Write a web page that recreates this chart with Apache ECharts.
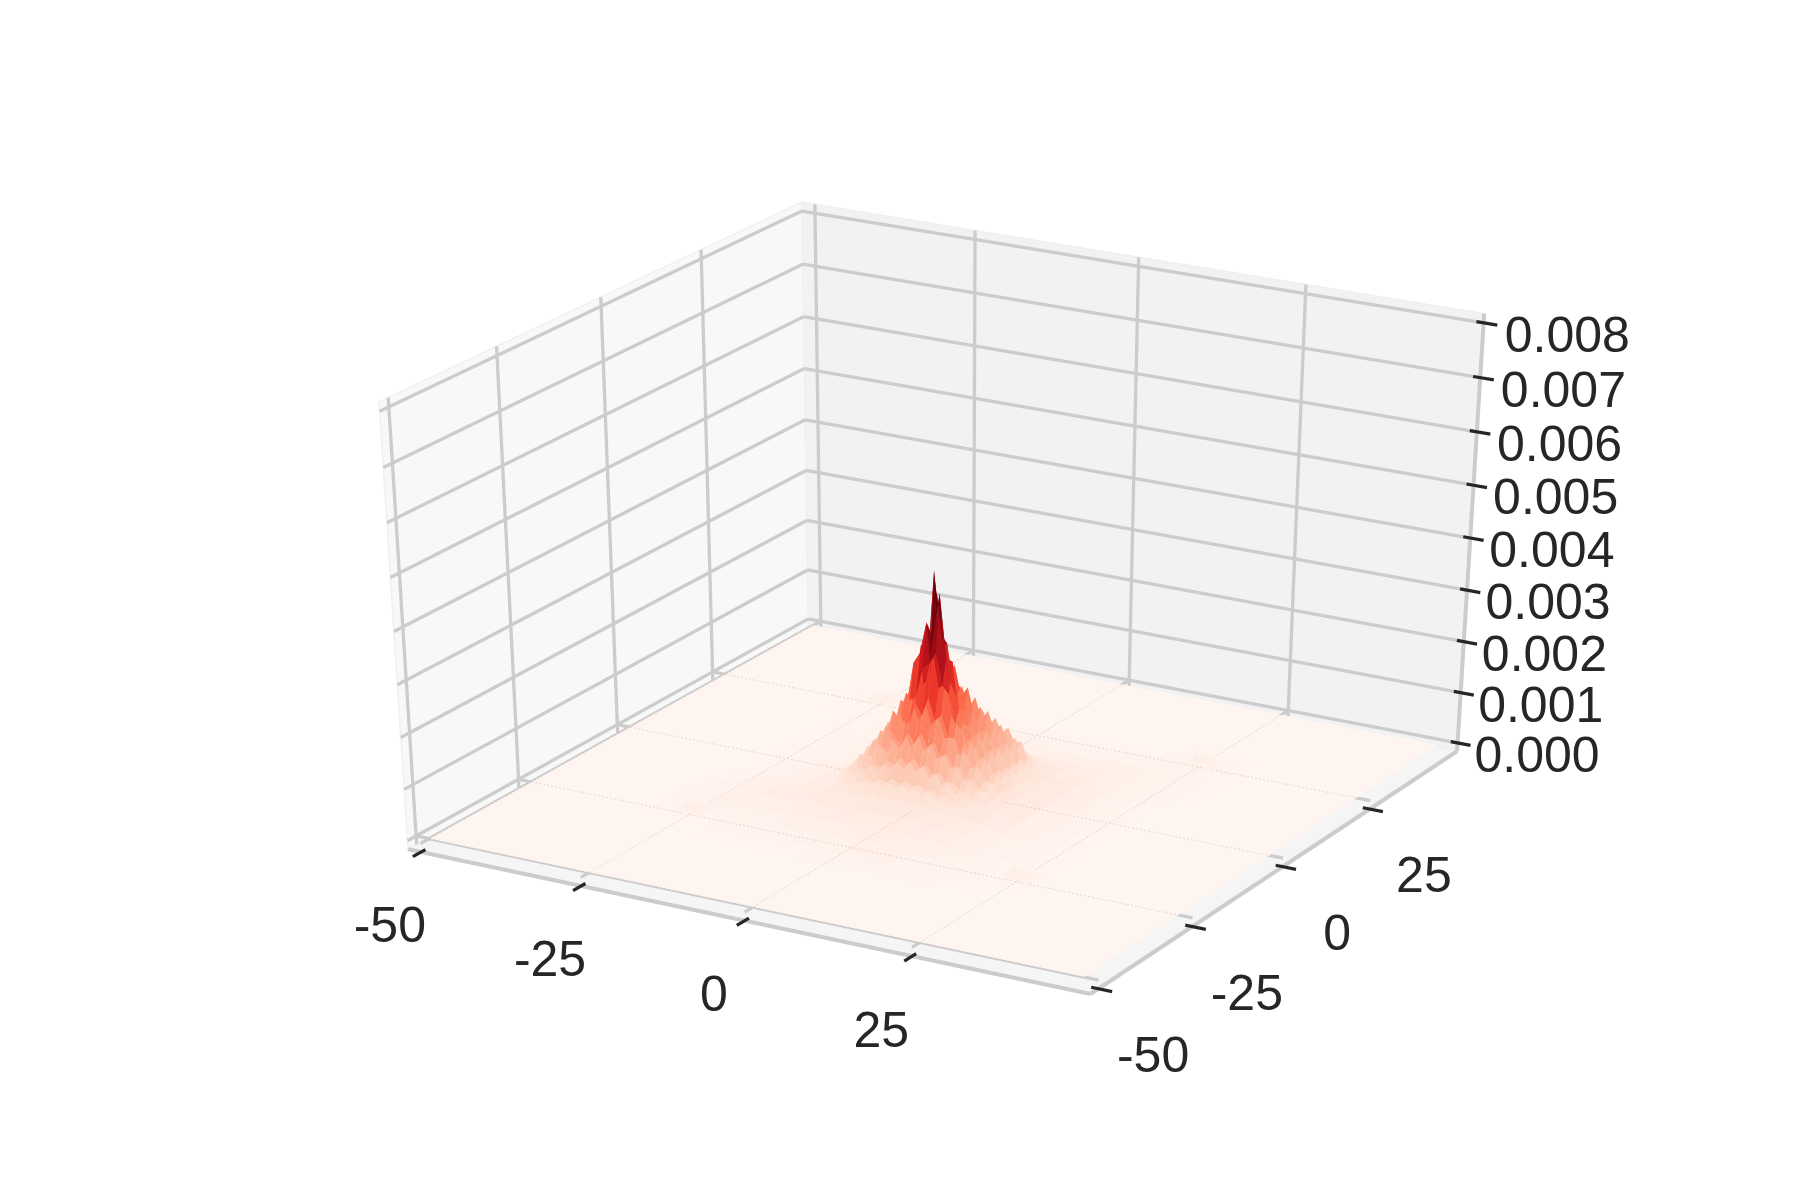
<!DOCTYPE html>
<html><head><meta charset="utf-8">
<style>html,body{margin:0;padding:0;background:#fff}#c{width:1800px;height:1200px}</style>
<script src="https://cdn.jsdelivr.net/npm/echarts@6/dist/echarts.min.js"></script>
</head><body><div id="c"></div>
<script>
// ---- axes ----
const xTicks = [-50, -25, 0, 25];
const yTicks = [-50, -25, 0, 25];
const zTicks = [0, 0.001, 0.002, 0.003, 0.004, 0.005, 0.006, 0.007, 0.008];
const xLabels = ['-50', '-25', '0', '25'];
const yLabels = ['-50', '-25', '0', '25'];
const zLabels = ['0.000', '0.001', '0.002', '0.003', '0.004', '0.005', '0.006', '0.007', '0.008'];
const xRange = [-50, 49];
const yRange = [-50, 49];
const zRange = [0, 0.008];
const zUnit = 0.000011;          // surface values below are in this unit
const colorMax = 0.0033;
const reds = ['#fff5f0', '#fee0d2', '#fcbba1', '#fc9272', '#fb6a4a', '#ef3b2c', '#cb181d', '#a50f15', '#67000d'];

// ---- surface values ----
// central peak: x = -15..13, y = 14..-14, step 1
const coreRows = [
[5,6,7,8,9,10,11,12,13,14,15,15,16,16,16,15,15,15,14,13,12,11,10,9,8,7,6,5,5],
[6,7,9,10,12,13,14,15,15,16,17,17,18,18,18,18,17,17,16,15,15,14,12,11,10,9,7,6,5],
[8,9,14,15,24,22,30,26,36,30,40,33,42,34,42,33,40,30,36,27,32,24,28,20,22,14,14,9,8],
[7,9,14,20,33,31,41,38,48,43,52,45,54,45,53,44,50,40,44,36,39,29,28,21,21,14,11,9,6],
[10,13,22,32,58,52,72,63,85,70,90,73,92,73,90,70,85,64,75,56,66,43,42,29,30,18,14,8,7],
[8,12,19,29,50,52,72,65,81,71,86,74,89,74,86,71,80,65,72,57,63,46,46,31,26,16,12,8,6],
[11,15,26,37,66,70,108,90,118,97,125,102,130,102,125,96,115,88,105,79,92,66,72,43,36,20,15,9,8],
[9,13,22,31,50,58,85,79,101,90,110,97,118,99,114,92,104,83,92,73,79,60,63,40,31,19,13,9,7],
[12,17,30,36,60,66,105,96,135,114,150,126,165,130,160,122,145,108,125,92,105,76,85,51,42,24,18,11,10],
[10,15,25,33,53,57,82,82,110,104,134,125,160,130,146,116,126,99,106,82,86,65,68,44,34,21,15,10,8],
[12,18,32,42,72,69,100,96,140,130,185,165,235,175,205,150,170,124,140,100,110,78,85,52,44,25,19,12,10],
[10,15,26,35,57,59,82,84,116,122,170,180,240,195,180,150,140,108,114,87,90,67,68,44,36,22,16,10,8],
[13,19,34,42,70,70,105,102,150,160,240,205,372,265,250,172,180,130,145,104,115,80,85,52,46,27,21,13,11],
[11,16,28,35,55,58,83,85,118,128,180,175,215,340,250,190,165,120,118,89,92,69,69,46,38,24,17,11,9],
[14,20,36,42,68,68,102,99,145,144,215,235,290,265,345,235,230,150,150,106,115,81,88,55,50,29,22,14,12],
[11,16,28,34,52,56,79,81,112,113,154,165,215,225,245,190,178,128,120,89,90,67,68,47,43,27,20,13,10],
[13,19,34,38,62,63,95,92,135,122,170,160,230,196,260,190,215,146,150,104,110,77,82,56,58,34,28,16,13],
[10,15,26,31,47,51,72,73,100,96,126,122,160,142,174,137,148,111,112,84,84,62,63,45,44,28,22,13,10],
[12,17,30,34,56,56,85,80,115,104,145,126,170,138,175,132,155,114,130,92,100,70,75,51,52,31,26,15,12],
[9,13,22,27,42,44,62,61,82,77,100,92,116,100,120,97,108,85,92,70,72,54,54,39,38,24,19,12,9],
[11,15,26,30,48,47,70,64,90,78,105,90,120,98,125,96,115,86,100,72,80,56,60,41,42,26,22,13,11],
[8,10,18,22,34,35,48,46,61,56,70,64,80,69,83,68,77,61,67,52,54,41,41,30,29,19,15,10,8],
[9,12,20,22,36,34,50,45,62,53,70,60,80,65,82,64,78,58,68,50,56,39,42,29,30,18,16,10,9],
[6,8,14,16,24,24,33,31,40,36,45,41,50,43,52,43,50,39,43,34,36,27,27,20,20,13,11,7,6],
[7,8,14,15,24,22,32,28,38,32,42,35,46,38,48,38,46,34,40,30,34,24,26,18,20,13,12,8,7],
[5,6,11,10,15,14,19,17,23,20,26,22,28,23,29,23,27,21,24,18,21,15,16,12,12,8,8,5,5],
[5,6,9,9,13,12,16,14,20,17,22,18,24,19,24,18,22,17,20,15,18,13,14,10,11,8,8,5,5],
[4,4,5,6,7,8,9,9,10,10,11,11,12,12,13,12,12,11,11,10,9,8,8,7,6,5,4,3,3],
[3,3,5,4,7,5,8,6,9,7,10,7,11,8,11,8,11,7,10,6,9,6,8,5,6,4,5,3,3]
];
const coreMinShown = 20;        // pale core cells melt into the halo beneath
// pale halo: x = -32..32, y = 32..-32, step 4
const haloRows = [
[0,1,1,0,0,0,0,0,0,0,0,0,0,0,1,1,0],
[1,3,2,1,1,1,1,1,2,1,1,1,1,1,3,3,1],
[1,2,3,2,1,2,2,3,3,3,2,2,1,3,5,3,1],
[0,1,2,3,3,4,5,6,6,6,5,4,5,7,5,2,1],
[0,1,1,3,5,7,9,11,12,12,10,9,10,7,4,2,0],
[0,1,2,3,6,11,16,20,22,22,20,17,12,8,4,2,0],
[0,1,2,4,7,14,22,27,30,30,28,22,14,9,4,1,0],
[0,1,2,4,8,16,26,30,32,32,30,25,15,9,4,1,0],
[0,1,2,5,9,17,27,32,34,34,31,25,15,8,3,1,0],
[0,1,3,6,11,18,27,32,32,32,30,24,14,7,3,1,0],
[0,2,4,8,13,20,26,30,30,30,27,20,12,6,3,1,0],
[1,2,6,10,14,18,22,25,25,25,22,15,9,5,2,1,0],
[1,4,7,11,12,13,15,18,19,19,16,11,7,4,2,1,0],
[1,3,6,7,8,9,10,12,14,14,12,8,5,3,2,1,0],
[1,3,3,4,4,5,6,7,9,10,9,6,4,2,2,1,0],
[1,1,1,2,2,2,3,4,5,6,6,5,3,2,1,1,0],
[0,0,0,0,1,1,1,2,3,3,3,2,2,1,1,0,0]
];
// four small bumps, step 1
const bumpNW = [[3,11,5,12,3],[4,8,6,9,3],[5,20,10,22,4],[3,9,7,8,3],[2,10,5,10,2]];
const bumpNE = [[3,12,6,10,3],[3,9,7,8,3],[4,23,10,20,4],[3,8,6,9,2],[2,10,5,9,2]];
const bumpSW = [[2,9,5,11,2],[3,8,6,8,3],[4,18,8,20,3],[3,8,6,8,3],[2,10,4,9,2]];
const bumpSE = [[2,11,5,10,2],[3,9,6,8,2],[5,22,9,18,4],[3,9,7,9,3],[2,9,5,11,2]];

// ---- mplot3d default camera: elev 30, azim -60, dist 10 ----
const camera = {n:[0.4330127,-0.75,0.5], u:[0.8660254,0.5,0], v:[-0.25,0.4330127,0.8660254], dist:10,
                sx:[941,7562], sy:[584,-4901]};
function toCube(x,y,z){
  return [(x-xRange[0])/(xRange[1]-xRange[0])-.5,(y-yRange[0])/(yRange[1]-yRange[0])-.5,(z-zRange[0])/(zRange[1]-zRange[0])-.5];
}
const dot=(a,b)=>a[0]*b[0]+a[1]*b[1]+a[2]*b[2];
function depth(x,y,z){ return camera.dist-dot(camera.n,toCube(x,y,z)); }
function project(x,y,z){
  const d=toCube(x,y,z), w=camera.dist-dot(camera.n,d);
  return [camera.sx[0]+camera.sx[1]*dot(camera.u,d)/w, camera.sy[0]+camera.sy[1]*dot(camera.v,d)/w];
}
const mx=(xRange[1]-xRange[0])/48, my=(yRange[1]-yRange[0])/48, mz=(zRange[1]-zRange[0])/48;
const X0=xRange[0]-mx,X1=xRange[1]+mx,Y0=yRange[0]-my,Y1=yRange[1]+my,Z0=zRange[0]-mz,Z1=zRange[1]+mz;

// ---- build items ----
function cellsFrom(rows,xStart,yStart,step,minShown){
  const out=[];
  for(let r=0;r<rows.length-1;r++)for(let c=0;c<rows[r].length-1;c++){
    const x0=xStart+c*step,x1=x0+step,y0=yStart-r*step,y1=y0-step;
    const a=rows[r][c],b=rows[r][c+1],e=rows[r+1][c+1],f=rows[r+1][c];
    if((a+b+e+f)/4<=(minShown||0))continue;
    out.push([x0,y0,x1,y1,a*zUnit,b*zUnit,e*zUnit,f*zUnit]);
  }
  return out;
}
function byDepth(cells){
  const key=k=>depth((k[0]+k[2])/2,(k[1]+k[3])/2,(k[4]+k[5]+k[6]+k[7])/4);
  return cells.sort((p,q)=>key(q)-key(p));
}
function renderPoly(params,api){
  const pts=[0,1,2,3].map(i=>{
    const x=(i===1||i===2)?api.value(2):api.value(0), y=(i<2)?api.value(1):api.value(3);
    return api.coord(project(x,y,api.value(4+i)));
  });
  const avg=(api.value(4)+api.value(5)+api.value(6)+api.value(7))/4;
  return {type:'polygon',shape:{points:pts},style:{fill:echarts.color.lerp(Math.min(avg/colorMax,1),reds)}};
}
const surfaceSeries=(name,data)=>({type:'custom',name,coordinateSystem:'cartesian2d',silent:true,animation:false,progressive:0,clip:false,renderItem:renderPoly,data});
function lineSeries(name,segs,style){
  return {type:'custom',name,coordinateSystem:'cartesian2d',silent:true,animation:false,progressive:0,clip:false,data:segs,
    renderItem(params,api){
      const a=api.coord(project(api.value(0),api.value(1),api.value(2))),b=api.coord(project(api.value(3),api.value(4),api.value(5)));
      return {type:'line',shape:{x1:a[0],y1:a[1],x2:b[0],y2:b[1]},style:Object.assign({fill:null},style)};
    }};
}
function paneSeries(panes){
  return {type:'custom',name:'panes',coordinateSystem:'cartesian2d',silent:true,animation:false,clip:false,data:panes.map((p,i)=>[i]),
    renderItem(params,api){
      const p=panes[params.dataIndex];
      return {type:'polygon',shape:{points:p.c.map(q=>api.coord(project(q[0],q[1],q[2])))},style:{fill:p.fill,stroke:'#f0f0f0',lineWidth:1.5}};
    }};
}
function labelSeries(name,labels,pts,off){
  return {type:'custom',name,coordinateSystem:'cartesian2d',silent:true,animation:false,clip:false,data:pts,
    renderItem(params,api){
      const a=api.coord(project(api.value(0),api.value(1),api.value(2)));
      const o=off(params.dataIndex);
      return {type:'text',style:{text:labels[params.dataIndex],x:a[0]+o[0],y:a[1]+o[1],font:'50px "Liberation Sans", Arial, sans-serif',fill:'#262626',textAlign:'center',textVerticalAlign:'middle'}};
    }};
}

const panes=[
 {fill:'#f8f8f8',c:[[X0,Y0,Z0],[X0,Y1,Z0],[X0,Y1,Z1],[X0,Y0,Z1]]},
 {fill:'#f2f2f2',c:[[X0,Y1,Z0],[X1,Y1,Z0],[X1,Y1,Z1],[X0,Y1,Z1]]},
 {fill:'#f5f5f5',c:[[X0,Y0,Z0],[X1,Y0,Z0],[X1,Y1,Z0],[X0,Y1,Z0]]}
];
const gridStyle={stroke:'#cccccc',lineWidth:3.3};
const wallGrid=[];
zTicks.forEach(z=>{wallGrid.push([X0,Y0,z,X0,Y1,z]);wallGrid.push([X0,Y1,z,X1,Y1,z]);});
xTicks.forEach(x=>wallGrid.push([x,Y1,Z0,x,Y1,Z1]));
yTicks.forEach(y=>wallGrid.push([X0,y,Z0,X0,y,Z1]));
const floorGrid=[];
xTicks.forEach(x=>floorGrid.push([x,Y0,0,x,Y1,0]));
yTicks.forEach(y=>floorGrid.push([X0,y,0,X1,y,0]));
const faintGrid=[];
xTicks.forEach(x=>faintGrid.push([x,yRange[0],0,x,yRange[1],0]));
yTicks.forEach(y=>faintGrid.push([xRange[0],y,0,xRange[1],y,0]));
const axisLines=[[X0,Y0,Z0,X1,Y0,Z0],[X1,Y0,Z0,X1,Y1,Z0],[X1,Y1,Z0,X1,Y1,Z1]];
const tickOut=0.02*(xRange[1]-xRange[0]), tickIn=0.0105*(xRange[1]-xRange[0]);
const ticks=[];
xTicks.forEach(x=>ticks.push([x,Y0+tickIn,Z0,x,Y0-tickOut,Z0]));
yTicks.forEach(y=>ticks.push([X1-tickIn,y,Z0,X1+tickOut,y,Z0]));
zTicks.forEach(z=>ticks.push([X1-tickIn,Y1,z,X1+tickOut,Y1,z]));

const floorCell=[[xRange[0],yRange[1],xRange[1],yRange[0],1e-9,1e-9,1e-9,1e-9]];
const haloCells=byDepth(cellsFrom(haloRows,-32,32,4));
const bumpCells=byDepth([].concat(
  cellsFrom(bumpNW,-27,28,1),cellsFrom(bumpNE,23,28,1),cellsFrom(bumpSW,-27,-22,1),cellsFrom(bumpSE,23,-22,1)));
const coreCells=byDepth(cellsFrom(coreRows,-15,14,1,coreMinShown));

const chart=echarts.init(document.getElementById('c'),null,{renderer:'canvas',width:1800,height:1200});
chart.setOption({
  animation:false,
  backgroundColor:'#ffffff',
  grid:{left:0,right:0,top:0,bottom:0,containLabel:false},
  xAxis:{type:'value',min:0,max:1800,show:false},
  yAxis:{type:'value',min:0,max:1200,inverse:true,show:false},
  series:[
    paneSeries(panes),
    lineSeries('wall grid',wallGrid,gridStyle),
    lineSeries('floor grid',floorGrid,gridStyle),
    lineSeries('axis lines',axisLines,{stroke:'#cccccc',lineWidth:4}),
    lineSeries('ticks',ticks,{stroke:'#262626',lineWidth:3.2}),
    surfaceSeries('floor surface',floorCell),
    surfaceSeries('halo',haloCells),
    lineSeries('floor grid through surface',faintGrid,{stroke:'rgba(190,175,170,0.45)',lineWidth:1,lineDash:[2,2]}),
    surfaceSeries('bumps',bumpCells),
    surfaceSeries('peak',coreCells),
    labelSeries('x labels',xLabels,xTicks.map(x=>[x,Y0-tickOut,Z0]),()=>[-23,72]),
    labelSeries('y labels',yLabels,yTicks.map(y=>[X1+tickOut,y,Z0]),()=>[41,67]),
    labelSeries('z labels',zLabels,zTicks.map(z=>[X1+tickOut,Y1,z]),i=>[66.5+3.5*i/8,13])
  ]
});
</script></body></html>
